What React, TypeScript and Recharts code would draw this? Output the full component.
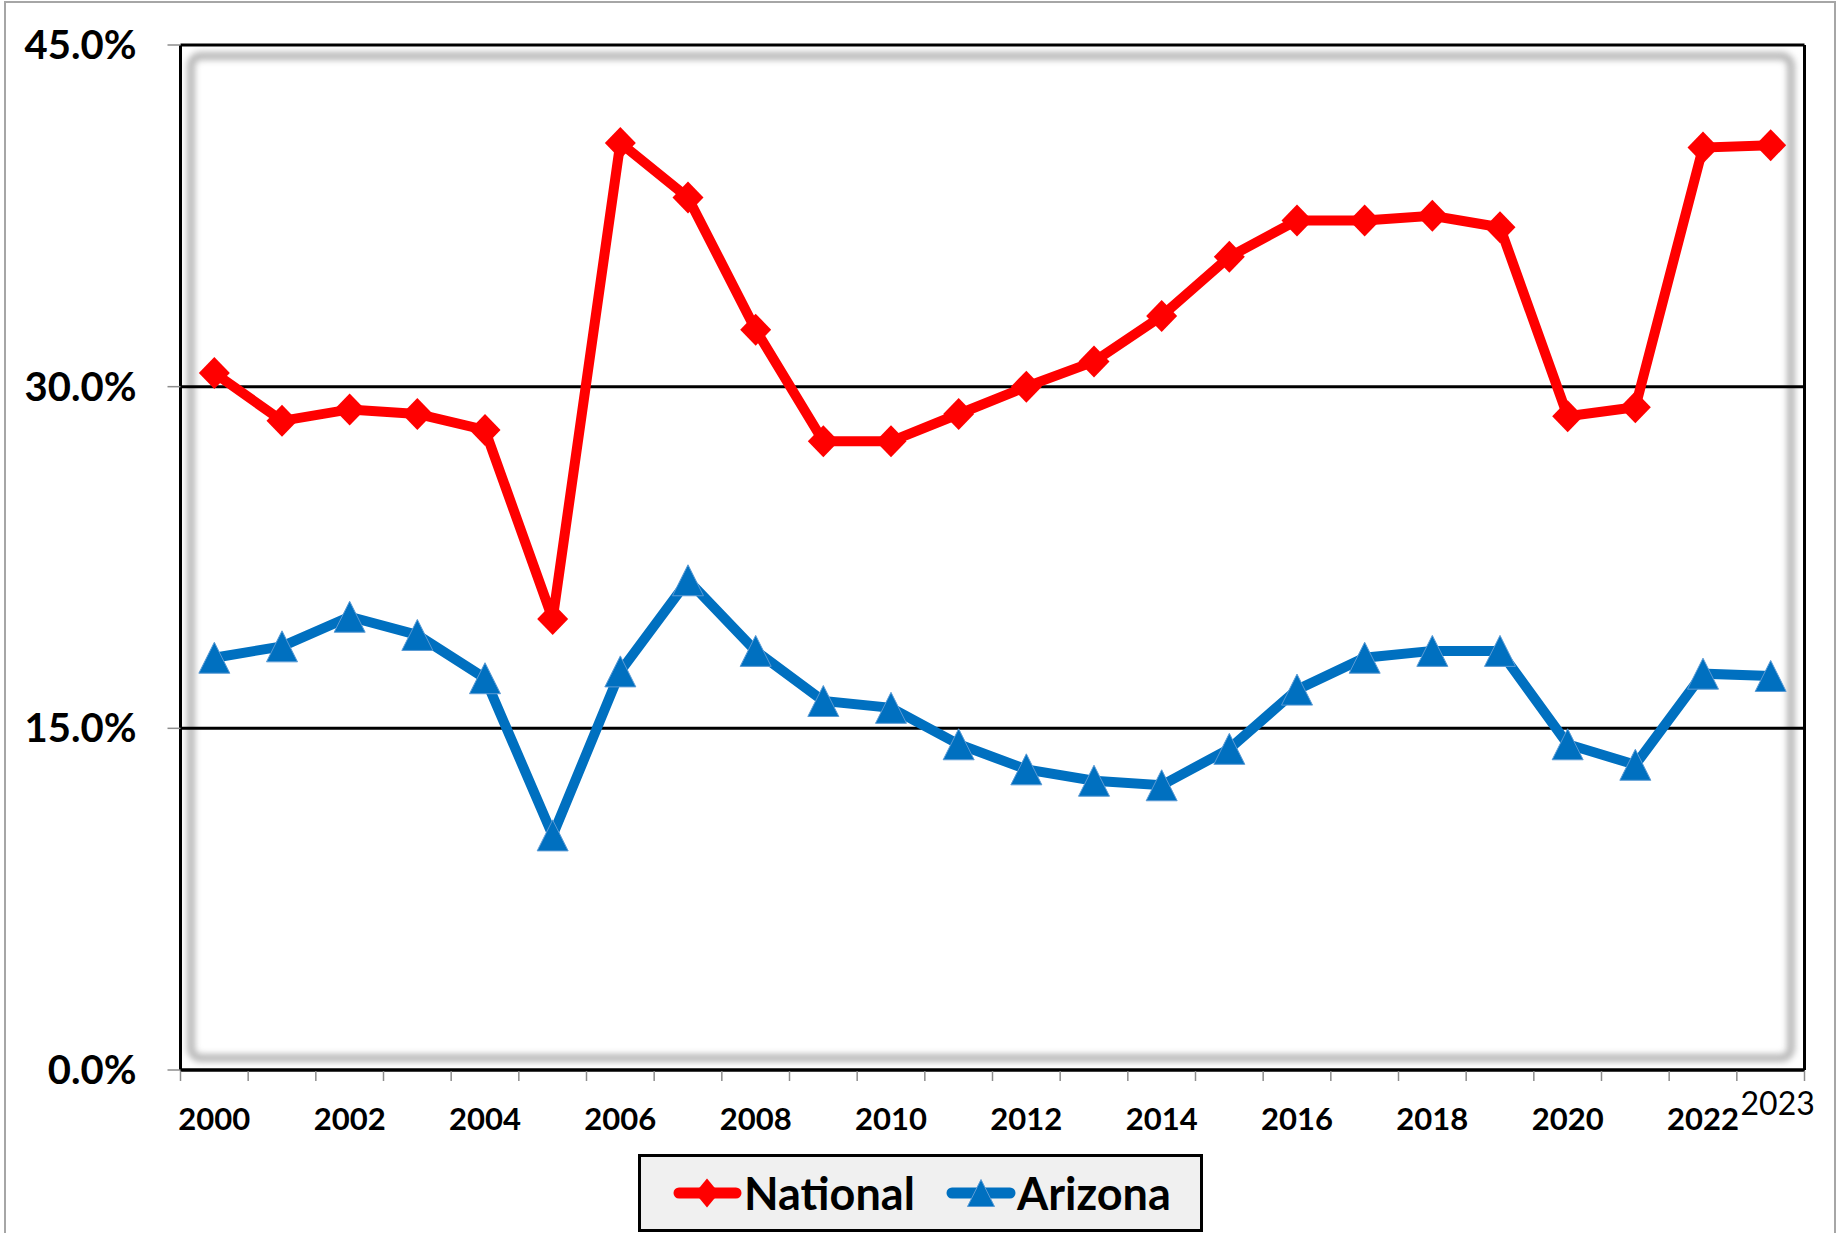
import { CartesianGrid, Line, LineChart, ReferenceLine, XAxis, YAxis } from "recharts"

const years = [
  2000, 2001, 2002, 2003, 2004, 2005, 2006, 2007, 2008, 2009, 2010, 2011,
  2012, 2013, 2014, 2015, 2016, 2017, 2018, 2019, 2020, 2021, 2022, 2023,
]

const national = [
  30.6, 28.5, 29.0, 28.8, 28.1, 19.8, 40.7, 38.3, 32.5, 27.6, 27.6, 28.8,
  30.0, 31.1, 33.1, 35.7, 37.3, 37.3, 37.5, 37.0, 28.7, 29.1, 40.5, 40.6,
]

const arizona = [
  18.1, 18.6, 19.9, 19.1, 17.2, 10.3, 17.5, 21.5, 18.4, 16.2, 15.9, 14.3,
  13.2, 12.7, 12.5, 14.1, 16.7, 18.1, 18.4, 18.4, 14.3, 13.4, 17.4, 17.3,
]

const yTicks = [0, 15, 30, 45]
const labelYears = [2000, 2002, 2004, 2006, 2008, 2010, 2012, 2014, 2016, 2018, 2020, 2022, 2023]

const data = years.map((year, i) => ({ year, national: national[i], arizona: arizona[i] }))

const firstYear = years[0]
const lastYear = years[years.length - 1]
// tick marks sit between categories, labels sit on them
const bounds = [...years.map((y) => y - 0.5), lastYear + 0.5]
const xTicks = [...bounds, ...labelYears].sort((a, b) => a - b)

const FONT = "Lato, 'Noto Sans', sans-serif"
const RED = "#FF0000"
const BLUE = "#0070C0"

const YTick = ({ x, y, payload }: any) => (
  <g>
    <line x1={x - 13} x2={x} y1={y} y2={y} stroke="#8c8c8c" strokeWidth={1.5} />
    <text x={x - 44} y={y} dy={14} textAnchor="end" fontFamily={FONT} fontWeight={700} fontSize={40} fill="#000">
      {payload.value.toFixed(1)}%
    </text>
  </g>
)

const XTick = ({ x, y, payload }: any) => {
  const v = payload.value
  if (!Number.isInteger(v)) {
    return <line x1={x} x2={x} y1={y + 1} y2={y + 11} stroke="#8c8c8c" strokeWidth={1.5} />
  }
  if (v === lastYear) {
    return (
      <text x={x + 7} y={y + 45} textAnchor="middle" fontFamily={FONT} fontSize={32} fill="#000">
        {v}
      </text>
    )
  }
  return (
    <text x={x} y={y + 60} textAnchor="middle" fontFamily={FONT} fontWeight={700} fontSize={31} fill="#000">
      {v}
    </text>
  )
}

const Diamond = ({ cx, cy, w = 15.5, h = 16 }: any) => (
  <path d={`M${cx},${cy - h}L${cx + w},${cy}L${cx},${cy + h}L${cx - w},${cy}Z`} fill={RED} />
)

const Triangle = ({ cx, cy, s = 15.5 }: any) => (
  <path
    d={`M${cx},${cy - s}L${cx + s},${cy + s}L${cx - s},${cy + s}Z`}
    fill={BLUE}
    stroke="#5B9BD5"
    strokeWidth={1}
  />
)

function LegendBox() {
  return (
    <svg width={1837} height={1233} style={{ position: "absolute", left: 0, top: 0, zIndex: 2, pointerEvents: "none" }}>
      <rect x={639.5} y={1155.5} width={562} height={75} fill="#f0f0f0" stroke="#000" strokeWidth={3} />
      <line x1={679} x2={736} y1={1193} y2={1193} stroke={RED} strokeWidth={11} strokeLinecap="round" />
      <Diamond cx={707} cy={1193} w={12} h={14.5} />
      <text x={744} y={1210} fontFamily={FONT} fontWeight={700} fontSize={45} fill="#000">
        National
      </text>
      <line x1={952} x2={1010} y1={1193} y2={1193} stroke={BLUE} strokeWidth={11} strokeLinecap="round" />
      <Triangle cx={981} cy={1193} s={13.5} />
      <text x={1017} y={1210} fontFamily={FONT} fontWeight={700} fontSize={45} fill="#000">
        Arizona
      </text>
    </svg>
  )
}

export default function App() {
  return (
    <div style={{ position: "absolute", left: 0, top: 0, width: 1837, height: 1233, overflow: "hidden", background: "#fff" }}>
      <div
        style={{
          position: "absolute",
          left: 4,
          top: 1,
          width: 1832,
          height: 1300,
          border: "2px solid #a6a6a6",
          boxSizing: "border-box",
        }}
      />
      {/* soft inner frame of the plot area */}
      <div
        style={{
          position: "absolute",
          left: 187,
          top: 52,
          width: 1608,
          height: 1010,
          border: "8px solid #b8b8b8",
          borderRadius: 14,
          boxSizing: "border-box",
          filter: "blur(3px)",
        }}
      />
      <div style={{ position: "absolute", left: 0, top: 0, zIndex: 1 }}>
        <LineChart width={1837} height={1233} data={data} margin={{ top: 45, right: 32.5, bottom: 103, left: 0 }}>
          <CartesianGrid horizontal vertical={false} stroke="#000" strokeWidth={3} />
          <XAxis
            dataKey="year"
            type="number"
            domain={[firstYear - 0.5, lastYear + 0.5]}
            ticks={xTicks}
            interval={0}
            height={60}
            tickSize={0}
            tickMargin={0}
            tickLine={false}
            axisLine={{ stroke: "#000", strokeWidth: 3 }}
            tick={<XTick />}
          />
          <YAxis
            domain={[0, 45]}
            ticks={yTicks}
            interval={0}
            width={180.5}
            tickSize={0}
            tickMargin={0}
            tickLine={false}
            axisLine={{ stroke: "#000", strokeWidth: 3 }}
            tick={<YTick />}
          />
          <ReferenceLine x={lastYear + 0.5} stroke="#000" strokeWidth={3} />
          <Line
            dataKey="national"
            stroke={RED}
            strokeWidth={10}
            isAnimationActive={false}
            activeDot={false}
            dot={(p: any) => <Diamond key={`n${p.index}`} cx={p.cx} cy={p.cy} />}
          />
          <Line
            dataKey="arizona"
            stroke={BLUE}
            strokeWidth={10}
            isAnimationActive={false}
            activeDot={false}
            dot={(p: any) => <Triangle key={`a${p.index}`} cx={p.cx} cy={p.cy} />}
          />
        </LineChart>
      </div>
      <LegendBox />
    </div>
  )
}
